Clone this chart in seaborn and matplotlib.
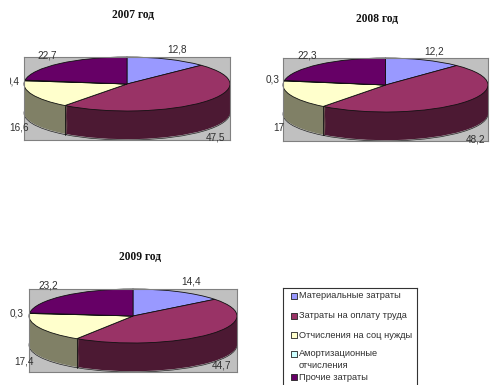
import matplotlib
matplotlib.use("Agg")
import matplotlib.pyplot as plt
import numpy as np
import seaborn as sns
from matplotlib.transforms import Bbox

years = ["2007 год", "2008 год", "2009 год"]
values_2007 = [12.8, 47.5, 16.6, 0.4, 22.7]
values_2008 = [12.2, 48.2, 17, 0.3, 22.3]
values_2009 = [14.4, 44.7, 17.4, 0.3, 23.2]
categories = [
    "Материальные затраты",
    "Затраты на оплату труда",
    "Отчисления на соц нужды",
    "Амортизационные\nотчисления",
    "Прочие затраты",
]

top_colors = sns.color_palette(["#9999ff", "#993366", "#ffffcc", "#ccffff", "#660066"])
side_colors = sns.color_palette(["#666699", "#4c1933", "#808066", "#668080", "#330033"])

W, H = 504, 385

sns.set_theme(style="white")
plt.rcParams["font.family"] = ["Liberation Sans", "DejaVu Sans"]

fig = plt.figure(figsize=(W / 100, H / 100), dpi=100)


def px_text(x, y, s, **kw):
    kw.setdefault("ha", "center")
    kw.setdefault("va", "center")
    kw.setdefault("fontsize", 7.2)
    kw.setdefault("color", "#303030")
    return fig.text(x / W, 1 - y / H, s, **kw)


def pie3d(values, box, ry, title, title_xy, label_xy):
    left, top, right, bottom = box
    ax = fig.add_axes([left / W, 1 - bottom / H, (right - left) / W, (bottom - top) / H])
    depth = (bottom - top) / ry - 2
    ax.set_facecolor("#c0c0c0")

    # lower rim, then the wall stacked on it, then the lid
    ax.pie(values, colors=["none"] * 5, startangle=90, counterclock=False,
           center=(0, -depth), radius=1,
           wedgeprops=dict(linewidth=0.5, edgecolor="#222222", clip_on=False))
    for off in np.linspace(depth - 0.03, 0.02, 30):
        ax.pie(values, colors=side_colors, startangle=90, counterclock=False,
               center=(0, -off), radius=1, wedgeprops=dict(linewidth=0, clip_on=False))
    ax.pie(values, colors=top_colors, startangle=90, counterclock=False,
           center=(0, 0), radius=1,
           wedgeprops=dict(linewidth=0.6, edgecolor="#111111", clip_on=False))

    # vertical edge between the front wall segments
    ang = np.deg2rad(360 * sum(values[:2]) / sum(values))
    x = np.sin(ang)
    y = np.cos(ang)
    ax.plot([x, x], [y, y - depth], color="#111111", lw=0.6, clip_on=False)

    ax.set_aspect("auto")
    ax.set_xlim(-1, 1)
    ax.set_ylim(-(1 + depth), 1)
    ax.set_xticks([])
    ax.set_yticks([])
    ax.set_frame_on(True)
    for s in ax.spines.values():
        s.set_visible(True)
        s.set_color("#808080")
        s.set_linewidth(0.8)

    px_text(title_xy[0], title_xy[1], title, fontsize=8.3, fontweight="bold",
            family=["Liberation Serif", "DejaVu Serif"], color="#111111")
    texts = []
    for v, xy in zip(values, label_xy):
        texts.append(px_text(xy[0], xy[1], f"{v:g}".replace(".", ",")))
    return texts


t1 = pie3d(values_2007, (24, 57, 230, 140), 27, years[0], (133, 15),
           [(177, 50), (215, 137), (19, 128), (13, 81), (47, 55)])
# the source image cuts this label at the chart area edge
t1[3].set_clip_box(Bbox.from_extents(10, 0, W, H))
t1[3].set_clip_on(True)
pie3d(values_2008, (283, 58, 488, 141), 27, years[1], (377, 19),
      [(434, 52), (475, 140), (279, 128), (273, 80), (307, 56)])
pie3d(values_2009, (29, 289, 237, 372), 27, years[2], (140, 257),
      [(191, 282), (222, 366), (24, 361), (17, 313), (48, 286)])

# legend box runs off the bottom of the picture
lg = fig.add_axes([283 / W, 0, (417 - 283) / W, (H - 288) / H])
lg.set_xlim(283, 417)
lg.set_ylim(385, 288)
lg.set_xticks([])
lg.set_yticks([])
for s in lg.spines.values():
    s.set_color("#333333")
    s.set_linewidth(0.8)
lg.spines["bottom"].set_visible(False)
legend_y = [296, 316, 335, 354, 377]
for cat, col, y in zip(categories, top_colors, legend_y):
    lg.scatter([293.5], [y], s=14, marker="s", color=col, edgecolor="#222222", linewidth=0.6)
    for i, line in enumerate(cat.split("\n")):
        lg.text(299, y + i * 12, line, fontsize=6.7, va="center", ha="left", color="#303030")

fig.savefig("out.png", dpi=100)
